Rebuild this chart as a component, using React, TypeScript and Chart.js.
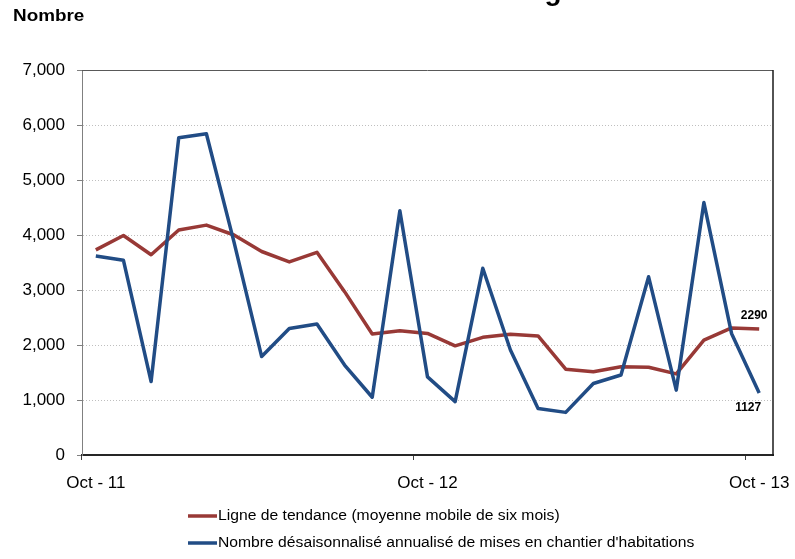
import React, { useEffect, useRef } from 'react';
import { Chart, registerables } from 'chart.js';

Chart.register(...registerables);

const months = [
  'Oct-11', 'Nov-11', 'Dec-11', 'Jan-12', 'Feb-12', 'Mar-12', 'Apr-12', 'May-12', 'Jun-12',
  'Jul-12', 'Aug-12', 'Sep-12', 'Oct-12', 'Nov-12', 'Dec-12', 'Jan-13', 'Feb-13', 'Mar-13',
  'Apr-13', 'May-13', 'Jun-13', 'Jul-13', 'Aug-13', 'Sep-13', 'Oct-13',
];

const trendValues = [
  3730, 3990, 3640, 4090, 4180, 4000, 3700, 3510, 3685, 2970, 2200, 2260, 2210,
  1985, 2140, 2195, 2165, 1560, 1515, 1605, 1595, 1475, 2090, 2310, 2290,
];

const startsValues = [
  3620, 3540, 1335, 5770, 5840, 3870, 1790, 2300, 2380, 1635, 1050, 4440, 1420,
  970, 3395, 1910, 845, 775, 1300, 1455, 3240, 1180, 4590, 2210, 1127,
];

const trendName = 'Ligne de tendance (moyenne mobile de six mois)';
const startsName = "Nombre désaisonnalisé annualisé de mises en chantier d'habitations";
const yAxisTitle = 'Nombre';
const titleFragment = 'g';

const yMin = 0;
const yMax = 7000;
const yStep = 1000;

const RED = '#983936';
const BLUE = '#214C85';
const FONT = '"Liberation Sans", Arial, sans-serif';

const isOct = (i: number) => typeof i === 'number' && months[i] !== undefined && months[i].startsWith('Oct');

const overlayPlugin = {
  id: 'overlay',
  afterDraw(chart: any) {
    const { ctx, chartArea: ca } = chart;
    ctx.save();
    // frame: top and right
    ctx.strokeStyle = '#595959';
    ctx.lineWidth = 1;
    ctx.beginPath();
    ctx.moveTo(ca.left, ca.top + 0.5);
    ctx.lineTo(ca.right, ca.top + 0.5);
    ctx.stroke();
    ctx.strokeStyle = '#1a1a1a';
    ctx.lineWidth = 1.5;
    ctx.beginPath();
    ctx.moveTo(ca.right, ca.top);
    ctx.lineTo(ca.right, ca.bottom + 1);
    ctx.stroke();

    // title fragment (cut off at top)
    ctx.fillStyle = '#000';
    ctx.font = `bold 28px ${FONT}`;
    ctx.textAlign = 'center';
    ctx.textBaseline = 'alphabetic';
    ctx.fillText(titleFragment, 553, 0);

    // y axis title
    ctx.save();
    ctx.font = `bold 16px ${FONT}`;
    ctx.textAlign = 'left';
    ctx.translate(13, 21);
    ctx.scale(1.18, 1);
    ctx.fillText(yAxisTitle, 0, 0);
    ctx.restore();

    // end labels
    const metaTrend = chart.getDatasetMeta(1);
    const metaStarts = chart.getDatasetMeta(0);
    const lt = metaTrend.data[metaTrend.data.length - 1];
    const ls = metaStarts.data[metaStarts.data.length - 1];
    ctx.font = `bold 12px ${FONT}`;
    ctx.textAlign = 'center';
    ctx.textBaseline = 'middle';
    ctx.fillText(String(trendValues[trendValues.length - 1]), lt.x - 5, lt.y - 13);
    ctx.fillText(String(startsValues[startsValues.length - 1]), ls.x - 11, ls.y + 15);

    // legend
    const items = [
      { name: trendName, color: RED },
      { name: startsName, color: BLUE },
    ];
    items.forEach((it, i) => {
      const y = 516 + i * 27;
      ctx.strokeStyle = it.color;
      ctx.lineWidth = 3.5;
      ctx.beginPath();
      ctx.moveTo(188, y);
      ctx.lineTo(217, y);
      ctx.stroke();
      ctx.save();
      ctx.fillStyle = '#000';
      ctx.font = `14px ${FONT}`;
      ctx.textAlign = 'left';
      ctx.textBaseline = 'middle';
      ctx.translate(218, y);
      ctx.scale(1.12, 1);
      ctx.fillText(it.name, 0, 0);
      ctx.restore();
    });
    ctx.restore();
  },
};

export default function App() {
  const ref = useRef<HTMLCanvasElement | null>(null);

  useEffect(() => {
    if (!ref.current) return;
    const chart = new Chart(ref.current, {
      type: 'line',
      data: {
        labels: months,
        datasets: [
          {
            label: startsName,
            data: startsValues,
            borderColor: BLUE,
            backgroundColor: BLUE,
            borderWidth: 3.5,
            borderJoinStyle: 'round',
            pointRadius: 0,
            tension: 0,
            order: 0,
          },
          {
            label: trendName,
            data: trendValues,
            borderColor: RED,
            backgroundColor: RED,
            borderWidth: 3.5,
            borderJoinStyle: 'round',
            pointRadius: 0,
            tension: 0,
            order: 1,
          },
        ],
      },
      options: {
        animation: false,
        responsive: false,
        events: [],
        layout: { padding: { top: 70, right: 22, left: 0, bottom: 0 } },
        plugins: {
          legend: { display: false },
          tooltip: { enabled: false },
          title: { display: false },
        },
        scales: {
          x: {
            type: 'category',
            offset: true,
            grid: {
              display: true,
              offset: true,
              drawOnChartArea: false,
              drawTicks: true,
              tickLength: 5,
              tickWidth: 1,
              color: 'rgba(0,0,0,0)',
              tickColor: (c: any) => (isOct(c.index) ? '#404040' : 'rgba(0,0,0,0)'),
            },
            border: { display: true, color: '#262626', width: 2 },
            ticks: {
              autoSkip: false,
              maxRotation: 0,
              minRotation: 0,
              padding: 13,
              color: '#000',
              font: { family: FONT, size: 17 },
              callback: (_v: any, i: number) => (isOct(i) ? months[i].replace('-', ' - ') : ''),
            },
            afterFit: (s: any) => {
              s.height = 104;
              s.paddingLeft = 0;
              s.paddingRight = 0;
            },
          },
          y: {
            min: yMin,
            max: yMax,
            grid: {
              color: (c: any) =>
                c.tick && (c.tick.value === yMin || c.tick.value === yMax) ? 'rgba(0,0,0,0)' : '#BFBFBF',
              lineWidth: 1,
              tickLength: 5,
              tickColor: '#808080',
              drawTicks: true,
            },
            border: { display: true, color: '#808080', width: 1, dash: [1, 2] },
            ticks: {
              stepSize: yStep,
              padding: 12,
              color: '#000',
              font: { family: FONT, size: 17 },
              callback: (v: any) => Number(v).toLocaleString('en-US'),
            },
            afterFit: (s: any) => {
              s.width = 82;
            },
          },
        },
      },
      plugins: [overlayPlugin],
    });
    return () => chart.destroy();
  }, []);

  return (
    <div style={{ position: 'absolute', left: 0, top: 0, width: 795, height: 559, background: '#fff' }}>
      <canvas ref={ref} width={795} height={559} />
    </div>
  );
}
